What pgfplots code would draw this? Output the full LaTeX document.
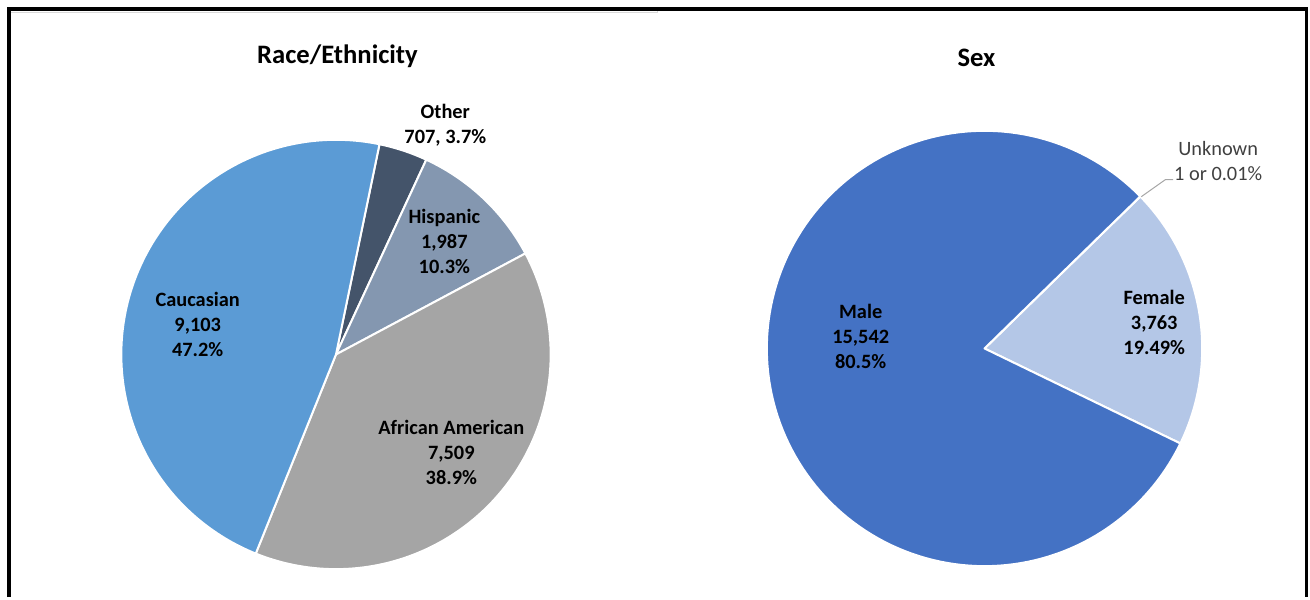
\documentclass[border=0pt]{standalone}
\usepackage{pgfplots}
\pgfplotsset{compat=1.18}
\usepackage{fontspec}
\setmainfont{Carlito}
\definecolor{cauc}{HTML}{5B9BD5}
\definecolor{afam}{HTML}{A5A5A5}
\definecolor{hisp}{HTML}{8497B0}
\definecolor{oth}{HTML}{44546A}
\definecolor{male}{HTML}{4472C4}
\definecolor{fem}{HTML}{B4C7E7}
\definecolor{lead}{HTML}{A6A6A6}
\definecolor{unk}{HTML}{404040}
% data
\def\vCauc{9103}\def\vAfAm{7509}\def\vHisp{1987}\def\vOth{707}
\def\vMale{15542}\def\vFem{3763}\def\vUnk{1}
\newcommand{\slice}[6]{%
  \addplot[fill=#6, draw=white, line width=1.5pt, line join=round, domain=#4:#5, samples=150]
    ({#1+#3*cos(x)},{#2-#3*sin(x)}) -- (axis cs:#1,#2) -- cycle;}
\begin{document}
\begin{tikzpicture}
\pgfmathsetmacro\totA{\vCauc/1000+\vAfAm/1000+\vHisp/1000+\vOth/1000}
\pgfmathsetmacro\SA{78.31}
\pgfmathsetmacro\aOth{\SA-(\vOth/1000)/\totA*360}
\pgfmathsetmacro\aHisp{\aOth-(\vHisp/1000)/\totA*360}
\pgfmathsetmacro\aAfAm{\aHisp-(\vAfAm/1000)/\totA*360}
\pgfmathsetmacro\aCauc{\SA-360}
\pgfmathsetmacro\totB{\vMale/1000+\vFem/1000+\vUnk/1000}
\pgfmathsetmacro\SB{44.3}
\pgfmathsetmacro\bFem{\SB-(\vFem/1000)/\totB*360}
\pgfmathsetmacro\bUnk{\SB+(\vUnk/1000)/\totB*360}
\pgfmathsetmacro\bMale{\bFem+360}
\begin{axis}[width=982.5pt, height=448.5pt, scale only axis,
  xmin=0, xmax=1310, ymin=0, ymax=598, y dir=reverse,
  hide axis, clip=false]
\path (axis cs:0,0) rectangle (axis cs:1310,598);
% left pie
\slice{336.5}{355}{215}{\aOth}{\SA}{oth}
\slice{336.5}{355}{215}{\aHisp}{\aOth}{hisp}
\slice{336.5}{355}{215}{\aAfAm}{\aHisp}{afam}
\slice{336.5}{355}{215}{\aCauc}{\aAfAm}{cauc}
% right pie
\slice{986}{349}{218}{\bFem}{\SB}{fem}
\slice{986}{349}{218}{\SB}{\bUnk}{fem}
\slice{986}{349}{218}{\bUnk}{\bMale}{male}
% frame
\draw[black!15, line width=0.75pt] (axis cs:11,13) -- (axis cs:658,13) -- (axis cs:658,11);
\draw[black, line width=3pt] (axis cs:9,598) -- (axis cs:9,9) -- (axis cs:1310,9);
\draw[black, line width=2.25pt] (axis cs:1308.5,9) -- (axis cs:1308.5,598);
% titles
\node[font=\fontsize{20}{24}\selectfont\bfseries] at (axis cs:338,56) {Race/Ethnicity};
\node[font=\fontsize{20}{24}\selectfont\bfseries] at (axis cs:978,58) {Sex};
% labels
\tikzset{lab/.style={font=\fontsize{15.3}{18.9}\selectfont\bfseries, align=center, inner sep=0pt}}
\node[lab] at (axis cs:198,325) {Caucasian\\9,103\\47.2\%};
\node[lab] at (axis cs:446,125.5) {Other\\707, 3.7\%};
\node[lab] at (axis cs:445,242) {Hispanic\\1,987\\10.3\%};
\node[lab] at (axis cs:452,453) {African American\\7,509\\38.9\%};
\node[lab] at (axis cs:862,337) {Male\\15,542\\80.5\%};
\node[lab] at (axis cs:1156,323) {Female\\3,763\\19.49\%};
\draw[lead, line width=0.75pt] (axis cs:1143,197) -- (axis cs:1167,180) -- (axis cs:1175,180);
\node[font=\fontsize{15.3}{18.9}\selectfont, text=unk, align=center, inner sep=0pt] at (axis cs:1220,161) {Unknown\\1 or 0.01\%};
\end{axis}
\end{tikzpicture}
\end{document}
